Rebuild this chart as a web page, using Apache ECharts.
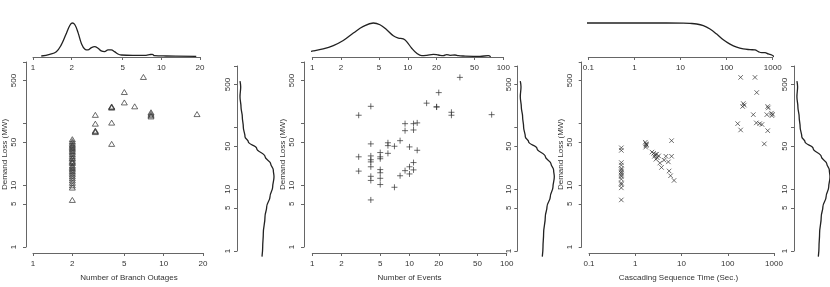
<!DOCTYPE html>
<html><head><meta charset="utf-8">
<script src="https://cdn.jsdelivr.net/npm/echarts@6/dist/echarts.min.js"></script>
<style>html,body{margin:0;padding:0;background:#fff}#c{width:830px;height:287px}</style>
</head><body><div id="c"></div>
<script>
// ---- data ----
const outagesX = [2,2,2,2,2,2,2,2,2,2,2,2,2,2,2,2,2,2,2,2,2,2,2,2,2,2,2,2,2,2,2,
  3,3,3,3,3,4,4,4,4,4,5,5,6,7,8,8,8,8,18];
const outagesLoss = [56,52,49,46,44,42,40,38,36,34,32,30,28,27,25,24,23,21,20,19,18,17,16,15,14,13,12,11,10,9.2,5.8,
  139,100,77,75,73,186,190,182,104,47,326,221,191,572,153,145,137,131,143];
const eventsX = [33,20,15,19,19,27,27,70,4,3,9,11,12,9,11,8,6,6,7,4,10,12,6,5,5,5,4,4,4,3,4,5,3,5,4,5,4,5,7,4,8,9,10,11,11,10];
const eventsLoss = [563,319,215,186,188,153,137,140,191,137,100,100,103,77,79,53,49,44,43,47,42,37,33,34,29,27,30,26,24,29,20,18,17,16,14,13,12,10.3,9.3,5.8,14.3,17.3,20,23.4,17.8,15.3];
const timeX = [190,388,423,217,228,210,731,753,357,700,880,900,930,164,190,415,490,550,731,617,
  0.5,0.5,0.5,0.5,0.5,0.5,0.5,0.5,0.5,0.5,0.5,0.5,0.5,0.5,0.5,
  1.65,1.7,1.72,1.68,1.75,
  2.3,2.5,2.7,2.9,2.6,3.0,3.2,2.8,3.4,3.7,
  4.6,6.1,4.2,5.2,6.1,5.4,5.8,6.9];
const timeLoss = [563,563,320,212,200,190,190,180,140,140,148,135,142,100,79,103,100,97,77,47,
  40.6,36.9,23.4,21.3,18.8,17.8,16.6,15.7,14.7,13.9,12.6,10.9,10.3,9.1,5.8,
  50,47,44,41.6,46,
  34.6,33,31.5,32,29.5,28,30,26.5,23,19.5,
  29.6,29.6,25.6,24,53,17.1,14.3,12];
// marginal density curves
const densOutX = [1.16,1.35,1.52,1.66,1.80,1.93,2.02,2.12,2.25,2.39,2.54,2.68,2.85,3.02,3.21,3.40,3.61,3.84,4.07,4.32,4.59,4.87,6.0,7.6,8.1,8.5,8.85,10.9,18.7];
const densOutY = [1,2.7,5.3,12,22,31,33.7,32,23.7,13,7.7,7,9.3,10.3,8.7,6,5.3,7,7,5.3,3,2,1.7,1.7,2.3,2.7,1.3,1,0.7];
const densEvX = [0.819,1.02,1.30,1.66,2.11,2.69,3.42,4.35,5.11,6.01,7.05,7.96,8.97,9.73,10.98,12.4,14.0,15.8,18.5,20.9,23.5,25.5,27.7,31.2,33.8,38.1,57,69.7,73.8];
const densEvY = [4.7,6,8,11.3,16.3,23.7,30.3,33.7,32,27,21,18.7,18,15.3,8.7,3.7,1.3,1.7,2.7,2,1.3,2.3,1.7,2,1.3,1,0.7,1.3,0.3];
const densTimeX = [0.0741,0.413,2.18,11.5,16.1,22.4,31.3,43.6,61,84.8,118.6,165.6,230,322,413,488,577,681,803,951,1067];
const densTimeY = [33.7,33.7,33.7,33.6,33.3,32.7,31,27.7,22.7,17,12.7,9.7,8,7.3,7,5.3,4.3,4.3,3,2,0.3];
const densLossV = [569,460,317,218,150,103,71,59,46,34,26,20.5,16,11,7.6,5.2,3.6,1.93,1.17,0.81];
const densLossD = [3,3.7,3,4,5.3,6.3,8,11.3,19.7,28,33.7,36.3,37,35.7,33,29.7,28,26.3,25.7,25];
// tick values
const lossTicks = [1,5,10,50,100,500,1000];
const lossLabels = [1,5,10,50,500];
const outTicks = [1,2,5,10,20];
const evTicks = [1,2,5,10,20,50,100];
const timeTicks = [0.1,1,10,100,1000];

const FONT = 'Liberation Sans, Arial, sans-serif';
const AX = '#666', TXT = '#333', LINE = '#222', PT = '#333';
const fmt = v => String(+(+v).toPrecision(3));

function logAxis(gridIndex, min, max, ticks, labels, extra) {
  return Object.assign({
    type: 'log', logBase: 10, gridIndex, min, max,
    axisLine: {show: true, lineStyle: {color: AX, width: 1}},
    axisTick: {show: true, length: 3, customValues: ticks, lineStyle: {color: AX, width: 1}},
    axisLabel: {show: true, customValues: labels, fontSize: 8, color: TXT, fontFamily: FONT, margin: 7, formatter: fmt},
    splitLine: {show: false}, minorTick: {show: false}, minorSplitLine: {show: false}
  }, extra || {});
}
function hiddenVal(gridIndex, max) {
  return {type: 'value', gridIndex, min: 0, max, show: false, splitLine: {show: false}};
}
const nameStyle = (pad) => ({fontSize: 8, color: TXT, fontFamily: FONT, padding: pad || 0});

const panels = [
  {x: outagesX, y: outagesLoss, xmin: 1, xmax: 20, xt: outTicks, name: 'Number of Branch Outages',
   main: {left: 33, width: 170}, yOff: 7, namePad: [0,0,0,22], top: {left: 33, width: 167}, right: {left: 237},
   dx: densOutX, dy: densOutY, dmax: 33.7, sym: 'triangle', size: [6,5], yTitleGap: 17},
  {x: eventsX, y: eventsLoss, xmin: 1, xmax: 100, xt: evTicks, name: 'Number of Events',
   main: {left: 312.3, width: 194.4}, yOff: 8.3, namePad: 0, top: {left: 312.3, width: 191}, right: {left: 517.3},
   dx: densEvX, dy: densEvY, dmax: 33.7, sym: 'path://M5,0L5,10M0,5L10,5', size: 6, yTitleGap: 17},
  {x: timeX, y: timeLoss, xmin: 0.1, xmax: 1000, xt: timeTicks, name: 'Cascading Sequence Time (Sec.)',
   main: {left: 589, width: 185}, yOff: 7.3, namePad: [0,6,0,0], top: {left: 588.3, width: 184.4}, right: {left: 794},
   dx: densTimeX, dy: densTimeY, dmax: 33.7, sym: 'path://M0,0L10,10M10,0L0,10', size: 4.5, yTitleGap: 17}
];

const grid = [], xAxis = [], yAxis = [], series = [];
panels.forEach((p, i) => {
  const gMain = grid.length;
  grid.push({left: p.main.left, width: p.main.width, top: 62, height: 190});
  const gTop = grid.length;
  grid.push({left: p.top.left, width: p.top.width, top: 23, height: 34});
  const gRight = grid.length;
  grid.push({left: p.right.left, width: 37, top: 66, height: 185});

  // main
  xAxis.push(logAxis(gMain, p.xmin, p.xmax, p.xt, p.xt, {position: 'bottom', offset: 6,
    name: p.name, nameLocation: 'middle', nameGap: 21, nameTextStyle: nameStyle(p.namePad)}));
  yAxis.push(logAxis(gMain, 1, 1000, lossTicks, lossLabels, {position: 'left', offset: p.yOff,
    name: 'Demand Loss (MW)', nameLocation: 'middle', nameRotate: 90, nameGap: p.yTitleGap, nameTextStyle: nameStyle(),
    axisLabel: {show: true, customValues: lossLabels, rotate: 90, fontSize: 8, color: TXT, fontFamily: FONT, margin: 8, formatter: fmt}}));
  series.push({type: 'scatter', xAxisIndex: xAxis.length - 1, yAxisIndex: yAxis.length - 1,
    data: p.x.map((v, k) => [v, p.y[k]]), symbol: p.sym, symbolSize: p.size, silent: true,
    itemStyle: {color: 'rgba(0,0,0,0)', borderColor: PT, borderWidth: 0.9}});

  // top density
  xAxis.push(logAxis(gTop, p.xmin, p.xmax, p.xt, p.xt, {position: 'bottom'}));
  yAxis.push(hiddenVal(gTop, p.dmax));
  series.push({type: 'line', xAxisIndex: xAxis.length - 1, yAxisIndex: yAxis.length - 1, clip: false,
    data: p.dx.map((v, k) => [v, p.dy[k]]), smooth: 0.4, showSymbol: false, silent: true,
    lineStyle: {color: LINE, width: 1.3}});

  // right density
  xAxis.push(hiddenVal(gRight, 37));
  yAxis.push(logAxis(gRight, 1, 1000, lossTicks, lossLabels, {position: 'left',
    axisLabel: {show: true, customValues: lossLabels, rotate: 90, fontSize: 8, color: TXT, fontFamily: FONT, margin: 5, formatter: fmt}}));
  series.push({type: 'line', xAxisIndex: xAxis.length - 1, yAxisIndex: yAxis.length - 1, clip: false,
    data: densLossV.map((v, k) => [densLossD[k], v]), smooth: 0.4, smoothMonotone: 'y', showSymbol: false, silent: true,
    lineStyle: {color: LINE, width: 1.3}});
});

const chart = echarts.init(document.getElementById('c'), null, {renderer: 'canvas'});
chart.setOption({animation: false, backgroundColor: '#fff', grid, xAxis, yAxis, series});
</script>
</body></html>
